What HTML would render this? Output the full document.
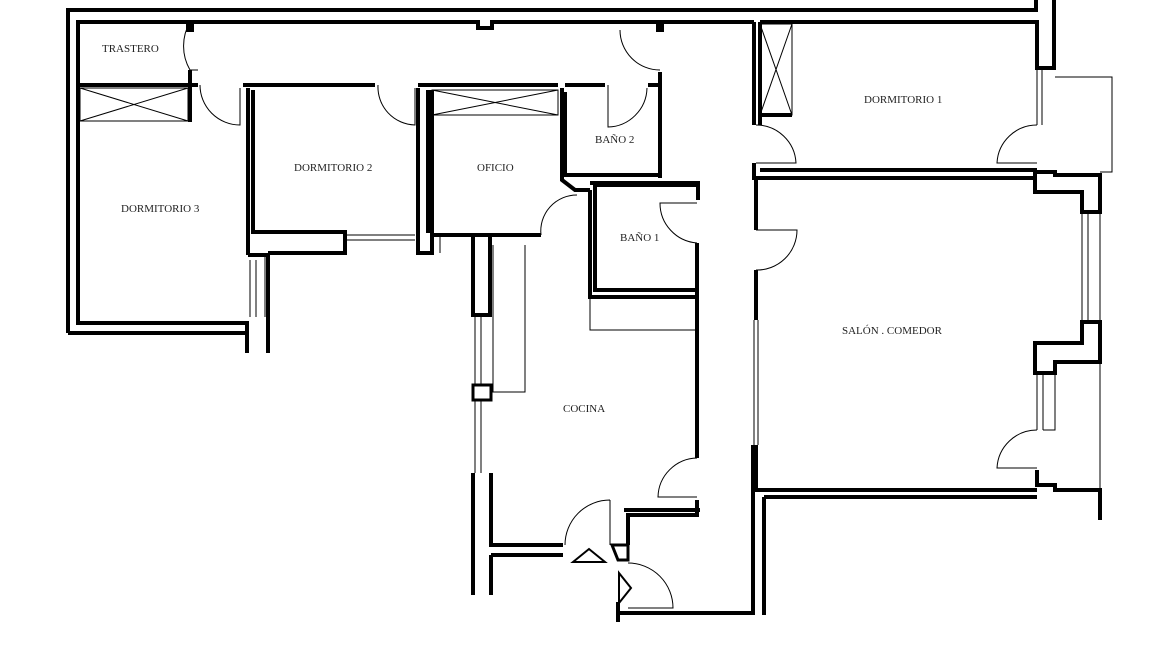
<!DOCTYPE html>
<html><head><meta charset="utf-8"><style>
html,body{margin:0;padding:0;background:#fff;}
svg{display:block}
text{font-family:"Liberation Serif",serif;font-size:11px;fill:#222;}
</style></head><body>
<svg width="1170" height="648" viewBox="0 0 1170 648" xmlns="http://www.w3.org/2000/svg">
<g fill="none" stroke="#000" stroke-width="4" stroke-linejoin="miter">
<path d="M68,333 V10 H1036 V0"/>
<path d="M1054,0 V68 H1037 V22 H760"/>
<path d="M754,22 H662 V30 H658 V22 H492 V28 H478 V22 H192 V30 H188 V22 H78 V323 H247 V353"/>
<path d="M68,333 H247"/>
<path d="M268,317 V353"/>
<path d="M78,85 H198"/>
<path d="M190,70 V122"/>
<path d="M243,85 H375"/>
<path d="M248,88 V255 M253,90 V232 H345 V253 H268 M248,255 H268 V317"/>
<path d="M418,88 V253 H432 V233 M428,90 V233"/>
<path d="M418,85 H558"/>
<path d="M432,90 V235 M432,235 H541"/>
<path d="M562,88 V180 L575,190 H590 M565,92 V175 H660"/>
<path d="M473,235 V315 H490 V235"/>
<path d="M565,85 H605 M648,85 H662 M660,72 V178"/>
<path d="M590,190 V297 H695 M595,185 V290 H695 M595,185 H698 V200 M590,183 H700"/>
<path d="M697,243 V458"/>
<path d="M473,385 H491 V400 H473 Z" stroke-width="3"/>
<path d="M473,473 V595 M491,473 V545 H563 M491,555 V595 M491,555 H563"/>
<path d="M697,500 V515 H628 V545 M624,510 H700"/>
<path d="M612,545 H628 V560 H618 Z" stroke-width="3"/>
<path d="M618,602 V622 M620,613 H753 V445"/>
<path d="M754,22 V125 M760,22 V125 M760,115 H792 M754,163 V178 H1037 M760,170 H1037"/>
<path d="M756,178 V230 M756,270 V320 M756,445 V490 H1037 M764,497 H1037 M764,497 V615"/>
<path d="M1035,172 H1055 V175 H1100 V212 H1082 V192 H1035 Z"/>
<path d="M1100,322 V362 H1055 V373 H1035 V343 H1082 V322 Z"/>
<path d="M1037,470 V485 H1055 V490 H1100 V520"/>
</g>
<g fill="none" stroke="#000" stroke-width="1">
<rect x="80" y="88" width="108" height="33"/><path d="M80,88 L188,121 M80,121 L188,88"/>
<rect x="432" y="90" width="126" height="25"/><path d="M432,90 L558,115 M432,115 L558,90"/>
<rect x="760" y="24" width="32" height="91"/><path d="M760,24 L792,115 M792,24 L760,115"/>
<path d="M190,22 A48,48 0 0,0 190,70 H198"/>
<path d="M200,85 A40,40 0 0,0 240,125 V88"/>
<path d="M378,85 A38,38 0 0,0 415,125 V88"/>
<path d="M620,30 A40,40 0 0,0 660,70"/>
<path d="M608,85 V127 A40,40 0 0,0 647,88"/>
<path d="M541,235 A36,36 0 0,1 577,195"/>
<path d="M697,203 H660 A40,40 0 0,0 697,243"/>
<path d="M756,125 A40,40 0 0,1 796,163 H756"/>
<path d="M756,230 H797 A40,40 0 0,1 756,270"/>
<path d="M1037,125 A40,40 0 0,0 997,163 H1037"/>
<path d="M1037,430 A40,40 0 0,0 997,468 H1037"/>
<path d="M697,458 A40,40 0 0,0 658,497 H697"/>
<path d="M610,500 V545 M610,500 A45,45 0 0,0 565,545"/>
<path d="M628,563 A45,45 0 0,1 673,608 H628"/>
<path d="M345,235 H415 M345,240 H415 M440,235 V253"/>
<path d="M250,260 V317 M256,260 V317 M265,255 V317"/>
<path d="M475,315 V385 M481,315 V385 M475,400 V473 M481,400 V473"/>
<path d="M493,245 V392 H525 V245"/>
<path d="M590,297 V330 H695"/>
<path d="M754,320 V445 M758,320 V445"/>
<path d="M1037,70 V125 M1042,70 V125 M1055,77 H1112 V172 H1100"/>
<path d="M1082,212 V320 M1088,212 V320 M1100,212 V322"/>
<path d="M1037,375 V430 M1043,375 V430 M1055,375 V430 H1043 M1100,362 V490"/>
</g>
<g fill="none" stroke="#000" stroke-width="2">
<path d="M573,562 L589,549 L605,562 Z"/>
<path d="M619,573 L631,588 L619,603 Z"/>
</g>
<text x="102" y="52">TRASTERO</text>
<text x="121" y="212">DORMITORIO 3</text>
<text x="294" y="171">DORMITORIO 2</text>
<text x="477" y="171">OFICIO</text>
<text x="595" y="143">BAÑO 2</text>
<text x="620" y="241">BAÑO 1</text>
<text x="864" y="103">DORMITORIO 1</text>
<text x="842" y="334">SALÓN . COMEDOR</text>
<text x="563" y="412">COCINA</text>
</svg>
</body></html>
